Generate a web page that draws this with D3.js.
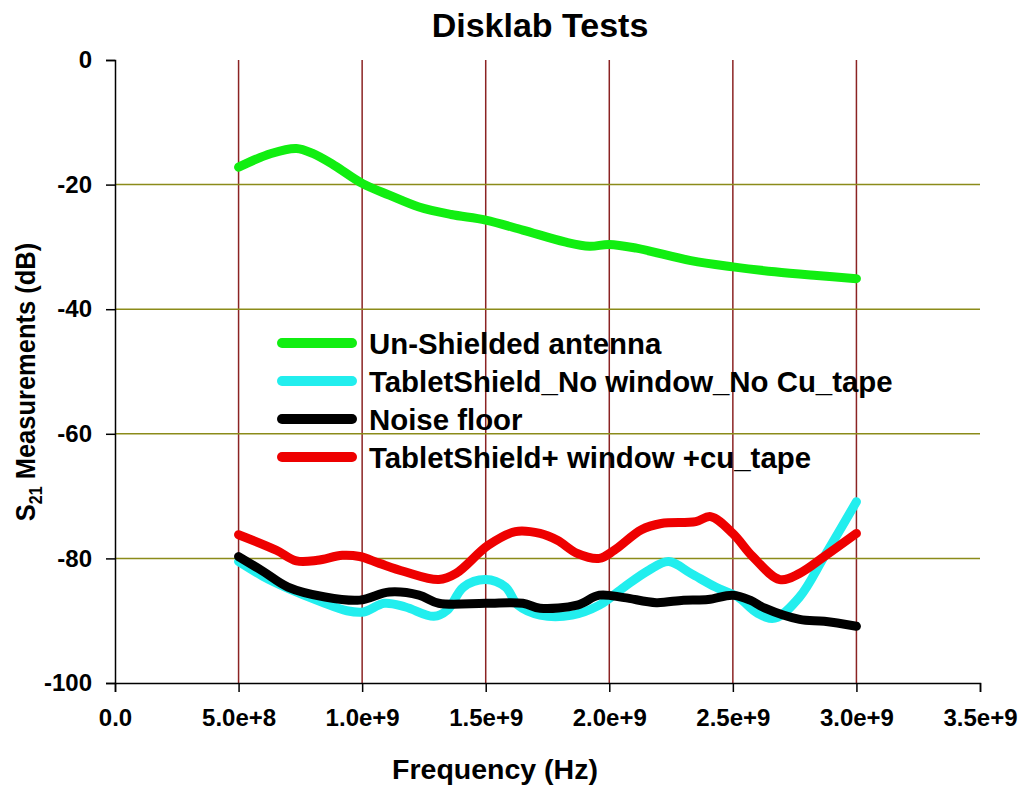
<!DOCTYPE html>
<html><head><meta charset="utf-8">
<script src="https://cdn.jsdelivr.net/npm/d3@7"></script>
<style>body{margin:0;background:#fff}svg{display:block}text{font-family:"Liberation Sans",Arial,sans-serif;font-weight:bold}</style>
</head><body>
<svg id="c" width="1023" height="786"></svg>
<script>
const xTicks = [0, 5e8, 1e9, 1.5e9, 2e9, 2.5e9, 3e9, 3.5e9];
const xTickLabels = ["0.0","5.0e+8","1.0e+9","1.5e+9","2.0e+9","2.5e+9","3.0e+9","3.5e+9"];
const yTicks = [0, -20, -40, -60, -80, -100];
const yTickLabels = ["0","-20","-40","-60","-80","-100"];
const seriesNames = ["Un-Shielded antenna","TabletShield_No window_No Cu_tape","Noise floor","TabletShield+ window +cu_tape"];
const seriesColors = ["#11ee11","#22eeee","#000000","#ee0000"];
const unshielded = [[5e8,-17.2],[6.32e8,-15.0],[7.34e8,-14.2],[8.0e8,-15.0],[8.87e8,-16.9],[1.0e9,-19.8],[1.11e9,-21.7],[1.23e9,-23.6],[1.36e9,-24.8],[1.5e9,-25.7],[1.65e9,-27.3],[1.82e9,-29.2],[1.92e9,-29.9],[2.0e9,-29.6],[2.11e9,-30.2],[2.33e9,-32.2],[2.5e9,-33.2],[2.67e9,-34.0],[2.84e9,-34.6],[3.0e9,-35.1]];
const noWindow = [[5e8,-80.5],[6.0e8,-82.9],[7.0e8,-84.8],[8.36e8,-87.0],[9.38e8,-88.4],[1.006e9,-88.6],[1.09e9,-87.2],[1.175e9,-87.8],[1.29e9,-89.3],[1.345e9,-88.3],[1.41e9,-84.6],[1.5e9,-83.4],[1.58e9,-84.6],[1.63e9,-87.5],[1.72e9,-89.1],[1.85e9,-89.1],[1.96e9,-87.5],[2.06e9,-84.6],[2.16e9,-81.9],[2.24e9,-80.5],[2.33e9,-82.4],[2.43e9,-84.6],[2.52e9,-86.2],[2.6e9,-88.8],[2.67e9,-89.6],[2.77e9,-86.2],[2.87e9,-79.7],[3.0e9,-70.9]];
const noiseFloor = [[5e8,-79.7],[6.0e8,-82.1],[7.0e8,-84.6],[8.5e8,-86.2],[9.9e8,-86.7],[1.11e9,-85.4],[1.23e9,-85.9],[1.31e9,-87.2],[1.5e9,-87.2],[1.65e9,-87.2],[1.72e9,-88.0],[1.87e9,-87.5],[1.96e9,-85.9],[2.06e9,-86.3],[2.19e9,-87.1],[2.3e9,-86.7],[2.4e9,-86.6],[2.5e9,-85.9],[2.57e9,-86.7],[2.63e9,-88.0],[2.77e9,-89.8],[2.87e9,-90.1],[3.0e9,-90.9]];
const withWindow = [[5e8,-76.2],[6.53e8,-78.7],[7.34e8,-80.4],[8.19e8,-80.3],[9.2e8,-79.5],[9.9e8,-79.7],[1.07e9,-80.8],[1.17e9,-82.1],[1.31e9,-83.4],[1.38e9,-82.4],[1.51e9,-77.9],[1.62e9,-75.7],[1.72e9,-76.0],[1.79e9,-77.1],[1.87e9,-79.2],[1.96e9,-80.0],[2.02e9,-78.7],[2.13e9,-75.4],[2.21e9,-74.4],[2.35e9,-74.1],[2.41e9,-73.3],[2.5e9,-76.0],[2.58e9,-79.7],[2.69e9,-83.4],[2.77e9,-82.4],[2.87e9,-79.7],[3.0e9,-76.0]];
const allSeries = [unshielded, noWindow, noiseFloor, withWindow];
const drawOrder = [0, 1, 3, 2];

const FONT = '"Liberation Sans",Arial,sans-serif';
const svg = d3.select("#c");
const L = 115, R = 980, T = 60, B = 683;
const x = d3.scaleLinear().domain([0, 3.5e9]).range([L, R]);
const y = d3.scaleLinear().domain([-100, 0]).range([B, T]);

// grid
svg.append("g").selectAll("line").data(xTicks.filter(v => v > 0 && v < 3.5e9)).join("line")
  .attr("x1", d => x(d)).attr("x2", d => x(d)).attr("y1", T).attr("y2", B)
  .attr("stroke", "#8b2323").attr("stroke-width", 1.5);
svg.append("g").selectAll("line").data(yTicks.filter(v => v < 0 && v > -100)).join("line")
  .attr("x1", L).attr("x2", R).attr("y1", d => y(d)).attr("y2", d => y(d))
  .attr("stroke", "#8b8b1a").attr("stroke-width", 1.5);

// axes
const xAxis = d3.axisBottom(x).tickValues(xTicks).tickFormat((d, i) => xTickLabels[i]).tickSize(9);
const gx = svg.append("g").attr("transform", `translate(0,${B})`).call(xAxis);
gx.select(".domain").attr("stroke", "#000").attr("stroke-width", 1.5);
gx.selectAll(".tick line").attr("stroke", "#000").attr("stroke-width", 1.5);
gx.selectAll("text").attr("y", 43).attr("dy", null)
  .attr("font-size", 24).attr("fill", "#000").style("font-family", FONT).style("font-weight", "bold");

const yAxis = d3.axisLeft(y).tickValues(yTicks).tickFormat((d, i) => yTickLabels[i]).tickSize(9);
const gy = svg.append("g").attr("transform", `translate(${L},0)`).call(yAxis);
gy.select(".domain").attr("stroke", "#000").attr("stroke-width", 1.5);
gy.selectAll(".tick line").attr("stroke", "#000").attr("stroke-width", 1.5);
gy.selectAll("text").attr("x", -23)
  .attr("font-size", 24).attr("fill", "#000").style("font-family", FONT).style("font-weight", "bold");

// lines
const line = d3.line().x(d => x(d[0])).y(d => y(d[1])).curve(d3.curveCatmullRom.alpha(0.5));
drawOrder.forEach(i => {
  svg.append("path").datum(allSeries[i]).attr("d", line)
    .attr("fill", "none").attr("stroke", seriesColors[i]).attr("stroke-width", 9)
    .attr("stroke-linecap", "round").attr("stroke-linejoin", "round");
});

// title and axis titles
svg.append("text").attr("x", 540).attr("y", 37).attr("text-anchor", "middle").attr("font-size", 34).text("Disklab Tests");
svg.append("text").attr("x", 495).attr("y", 779).attr("text-anchor", "middle").attr("font-size", 28.5).text("Frequency (Hz)");
const yl = svg.append("text").attr("transform", "translate(35,382) scale(1.1,1) rotate(-90)").attr("text-anchor", "middle").attr("font-size", 25.5);
yl.append("tspan").text("S");
yl.append("tspan").attr("font-size", 16).attr("dy", 6).text("21");
yl.append("tspan").attr("dy", -6).text(" Measurements (dB)");

// legend
const lg = svg.append("g");
seriesNames.forEach((n, i) => {
  const yy = 343 + i * 38;
  lg.append("line").attr("x1", 282).attr("x2", 352).attr("y1", yy).attr("y2", yy)
    .attr("stroke", seriesColors[i]).attr("stroke-width", 10).attr("stroke-linecap", "round");
  lg.append("text").attr("x", 369).attr("y", yy + 10.5).attr("font-size", 29.4).text(n);
});
</script>
</body></html>
